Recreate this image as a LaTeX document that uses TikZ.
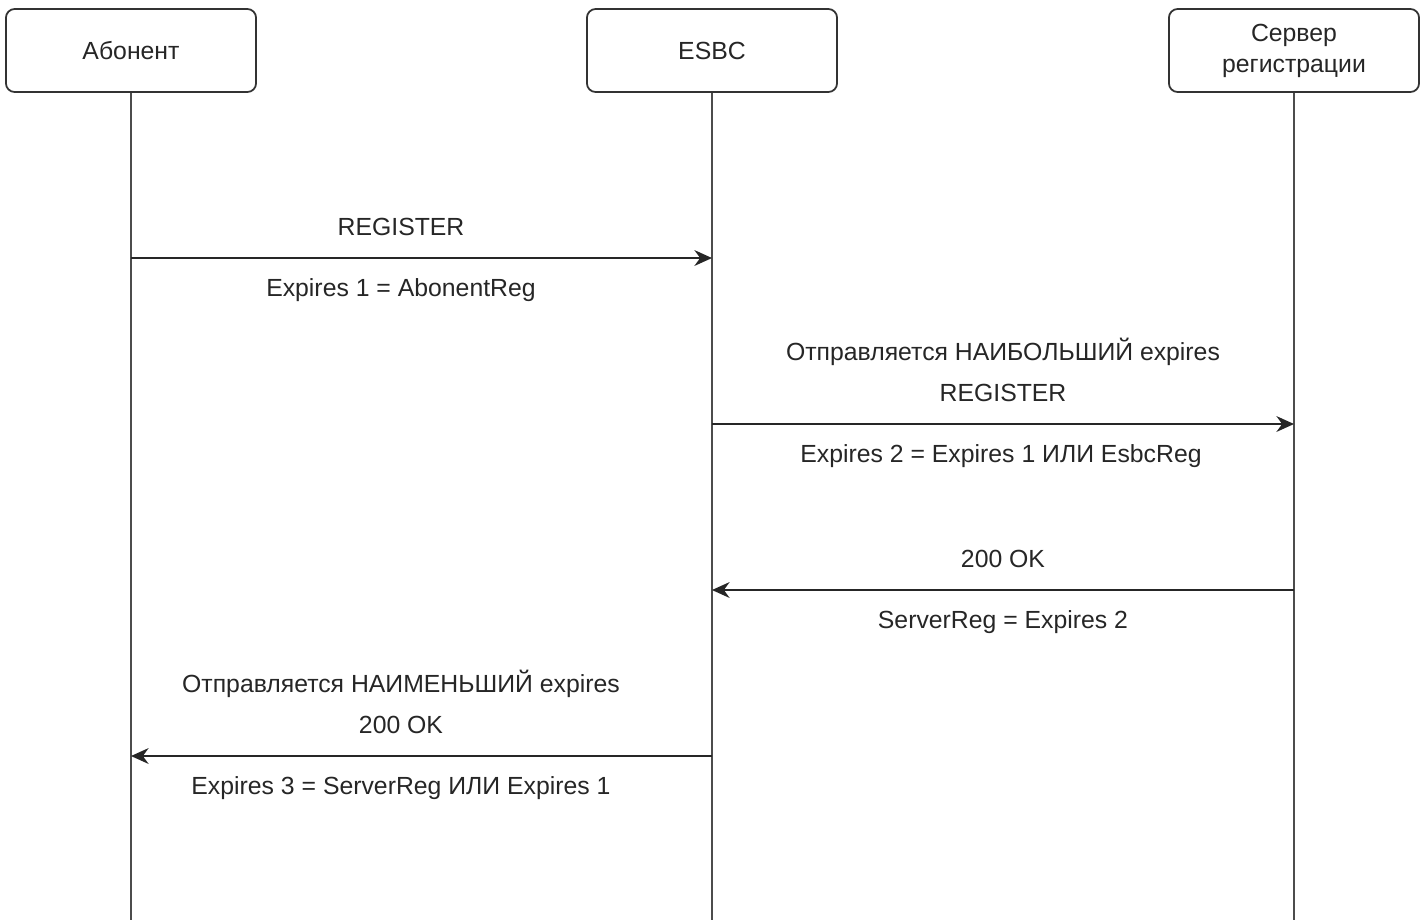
\documentclass[tikz,border=0pt]{standalone}
\usepackage{fontspec}
\setmainfont{Liberation Sans}
\usetikzlibrary{calc}
\usetikzlibrary{arrows.meta}

\begin{document}
\begin{tikzpicture}[x=0.01cm, y=-0.01cm,
    every node/.style={text=black!85, font=\fontsize{7.05}{8.8}\selectfont},
    actor/.style={draw=black!80, line width=0.5pt, rounded corners=2.5pt,
        minimum width=2.5cm, minimum height=0.83cm, align=center, inner sep=1pt},
    lifeline/.style={draw=black!70, line width=0.5pt},
    msg/.style={draw=black!85, line width=0.5pt, -{Stealth[length=5pt, width=4.5pt]}}]
    \useasboundingbox (0, 0) rectangle (1426, 920);

    % participants
    \node[actor] (abonent) at (131, 50.5) {Абонент};
    \node[actor] (esbc) at (712, 50.5) {ESBC};
    \node[actor] (server) at (1294, 50.5) {Сервер\\регистрации};

    \coordinate (abonentEnd) at (131, 920);
    \coordinate (esbcEnd) at (712, 920);
    \coordinate (serverEnd) at (1294, 920);
    \draw[lifeline] (abonent) -- (abonentEnd);
    \draw[lifeline] (esbc) -- (esbcEnd);
    \draw[lifeline] (server) -- (serverEnd);

    % message points
    \coordinate (m1a) at (131, 258);
    \coordinate (m1b) at (712, 258);
    \coordinate (m2a) at (712, 424);
    \coordinate (m2b) at (1294, 424);
    \coordinate (m3a) at (1294, 590);
    \coordinate (m3b) at (712, 590);
    \coordinate (m4a) at (712, 756);
    \coordinate (m4b) at (131, 756);

    \draw[msg] (m1a) -- (m1b);
    \draw[msg] (m2a) -- (m2b);
    \draw[msg] (m3a) -- (m3b);
    \draw[msg] (m4a) -- (m4b);

    \node (reg1) at (401, 227) {REGISTER};
    \node (exp1) at (401, 290) {Expires 1 = AbonentReg};
    \node (big) at (1003, 352) {Отправляется НАИБОЛЬШИЙ expires};
    \node (reg2) at (1003, 393) {REGISTER};
    \node (exp2) at (1001, 456) {Expires 2 = Expires 1 ИЛИ EsbcReg};
    \node (ok1) at (1003, 559) {200 OK};
    \node (sreg) at (1003, 622) {ServerReg = Expires 2};
    \node (small) at (401, 684) {Отправляется НАИМЕНЬШИЙ expires};
    \node (ok2) at (401, 725) {200 OK};
    \node (exp3) at (401, 788) {Expires 3 = ServerReg ИЛИ Expires 1};
\end{tikzpicture}
\end{document}
